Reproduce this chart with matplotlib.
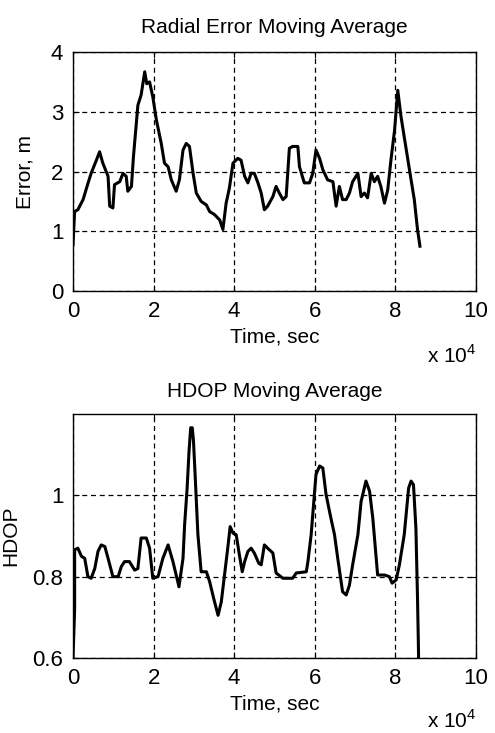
import matplotlib
matplotlib.use("Agg")
import matplotlib.pyplot as plt

plt.rcParams["font.family"] = ["Liberation Sans", "DejaVu Sans"]
plt.rcParams["mathtext.fontset"] = "custom"
plt.rcParams["mathtext.rm"] = "Liberation Sans"

# time axis in units of 1e4 sec
err_t = [0, 0.04, 0.12, 0.25, 0.37, 0.45, 0.58, 0.66, 0.74, 0.87, 0.91, 0.99, 1.03, 1.16,
         1.24, 1.32, 1.36, 1.45, 1.50, 1.61, 1.69, 1.78, 1.83, 1.90, 1.98, 2.07, 2.19, 2.27,
         2.36, 2.44, 2.56, 2.64, 2.73, 2.81, 2.89, 2.98, 3.06, 3.18, 3.31, 3.39, 3.51, 3.64,
         3.72, 3.80, 3.88, 3.97, 4.09, 4.17, 4.26, 4.34, 4.42, 4.50, 4.59, 4.67, 4.75, 4.83,
         4.96, 5.04, 5.12, 5.21, 5.29, 5.37, 5.45, 5.58, 5.62, 5.74, 5.87, 5.95, 6.03, 6.12,
         6.20, 6.32, 6.45, 6.53, 6.61, 6.69, 6.78, 6.86, 6.94, 7.07, 7.15, 7.23, 7.31, 7.40,
         7.48, 7.56, 7.64, 7.73, 7.81, 7.89, 7.98, 8.06, 8.14, 8.22, 8.35, 8.47, 8.55, 8.61]
err_m = [0.78, 1.33, 1.36, 1.53, 1.80, 1.97, 2.19, 2.33, 2.14, 1.92, 1.42, 1.39, 1.78, 1.83,
         1.97, 1.92, 1.67, 1.75, 2.25, 3.11, 3.28, 3.67, 3.47, 3.50, 3.25, 2.86, 2.47, 2.14,
         2.08, 1.86, 1.67, 1.86, 2.36, 2.47, 2.42, 1.97, 1.64, 1.50, 1.44, 1.33, 1.28, 1.19,
         1.03, 1.47, 1.72, 2.14, 2.22, 2.19, 1.92, 1.81, 1.97, 1.97, 1.81, 1.64, 1.36, 1.42,
         1.58, 1.75, 1.64, 1.53, 1.58, 2.39, 2.42, 2.42, 2.08, 1.81, 1.81, 1.97, 2.36, 2.22,
         2.03, 1.86, 1.83, 1.42, 1.75, 1.53, 1.53, 1.64, 1.83, 1.97, 1.58, 1.64, 1.56, 1.97,
         1.83, 1.92, 1.75, 1.47, 1.69, 2.19, 2.69, 3.36, 2.92, 2.58, 2.03, 1.53, 1.03, 0.75]

hdop_t = [0, 0.04, 0.04, 0.12, 0.21, 0.29, 0.37, 0.45, 0.54, 0.62, 0.70, 0.79, 0.87, 0.99,
          1.12, 1.20, 1.28, 1.40, 1.53, 1.61, 1.69, 1.82, 1.90, 1.98, 2.11, 2.23, 2.36, 2.48,
          2.56, 2.63, 2.73, 2.77, 2.83, 2.88, 2.92, 2.96, 2.99, 3.02, 3.10, 3.18, 3.31, 3.39,
          3.49, 3.60, 3.68, 3.76, 3.84, 3.90, 3.97, 4.05, 4.13, 4.20, 4.26, 4.34, 4.42, 4.50,
          4.61, 4.67, 4.75, 4.83, 4.96, 5.04, 5.21, 5.45, 5.54, 5.79, 5.83, 5.91, 5.99, 6.03,
          6.12, 6.20, 6.28, 6.40, 6.49, 6.57, 6.69, 6.78, 6.86, 6.94, 7.07, 7.15, 7.23, 7.27,
          7.36, 7.44, 7.56, 7.73, 7.85, 7.92, 8.02, 8.10, 8.22, 8.33, 8.39, 8.45, 8.51, 8.55,
          8.57, 8.58]
hdop = [0.60, 0.72, 0.866, 0.87, 0.85, 0.845, 0.80, 0.796, 0.82, 0.862, 0.878, 0.874, 0.845,
        0.80, 0.80, 0.825, 0.837, 0.837, 0.816, 0.82, 0.895, 0.895, 0.87, 0.796, 0.80, 0.845,
        0.878, 0.837, 0.804, 0.775, 0.845, 0.928, 1.014, 1.109, 1.166, 1.166, 1.133, 1.072,
        0.903, 0.812, 0.812, 0.788, 0.747, 0.705, 0.738, 0.804, 0.87, 0.923, 0.907, 0.903,
        0.853, 0.812, 0.837, 0.862, 0.87, 0.858, 0.833, 0.829, 0.878, 0.87, 0.858, 0.809,
        0.796, 0.796, 0.809, 0.812, 0.837, 0.903, 1.002, 1.051, 1.072, 1.067, 1.002, 0.944,
        0.903, 0.845, 0.763, 0.755, 0.779, 0.829, 0.903, 0.985, 1.018, 1.035, 1.01, 0.944,
        0.804, 0.804, 0.80, 0.784, 0.792, 0.829, 0.903, 1.018, 1.035, 1.026, 0.919, 0.747,
        0.64, 0.58]

xticks = [0, 2, 4, 6, 8, 10]
xtick_labels = ["0", "2", "4", "6", "8", "10"]
err_yticks = [0, 1, 2, 3, 4]
hdop_yticks = [0.6, 0.8, 1.0]
hdop_ytick_labels = ["0.6", "0.8", "1"]

FS = 15


def style(ax):
    ax.grid(True, color="black", linestyle=(0, (4, 3)), linewidth=0.9)
    ax.tick_params(direction="in", top=True, right=True, length=4, width=0.8,
                   labelsize=FS + 1, pad=7)
    for s in ax.spines.values():
        s.set_linewidth(1.0)
    ax.set_xlim(0, 10)
    ax.set_xticks(xticks)
    ax.set_xticklabels(xtick_labels)


fig = plt.figure(figsize=(4.95, 7.33), dpi=100)
ax1 = fig.add_axes([0.1475, 0.603, 0.814, 0.326])
ax2 = fig.add_axes([0.1475, 0.1023, 0.814, 0.333])

ax1.plot(err_t, err_m, color="black", lw=2.2)
style(ax1)
ax1.set_ylim(0, 4)
ax1.set_yticks(err_yticks)
ax1.set_title("Radial Error Moving Average", fontsize=FS, pad=14)
ax1.set_xlabel("Time, sec", fontsize=FS, labelpad=4)
ax1.set_ylabel("Error, m", fontsize=FS, labelpad=12)
ax1.text(1.0, -0.27, r"x 10$^{4}$", transform=ax1.transAxes, ha="right", va="center",
         fontsize=FS)

ax2.plot(hdop_t, hdop, color="black", lw=2.2)
style(ax2)
ax2.set_ylim(0.6, 1.2)
ax2.set_yticks(hdop_yticks)
ax2.set_yticklabels(hdop_ytick_labels)
ax2.set_title("HDOP Moving Average", fontsize=FS, pad=12)
ax2.set_xlabel("Time, sec", fontsize=FS, labelpad=4)
ax2.set_ylabel("HDOP", fontsize=FS, labelpad=9)
ax2.text(1.0, -0.255, r"x 10$^{4}$", transform=ax2.transAxes, ha="right", va="center",
         fontsize=FS)

fig.savefig("out.png", dpi=100)
